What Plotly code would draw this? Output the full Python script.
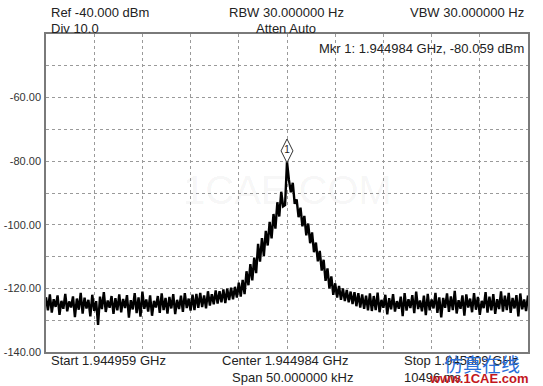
import plotly.graph_objects as go

# ---- data ----
span_khz = 50.0
n_points = 251
freq_offset_khz = [-25 + i * span_khz / (n_points - 1) for i in range(n_points)]

level_dbm = [
    -122.8, -126.9, -121.9, -127.6, -123.4, -125.8, -122.2, -128.3, -123.9, -126.4,
    -121.7, -127.2, -124.1, -126.0, -122.5, -129.0, -123.2, -126.7, -121.4, -127.9,
    -122.9, -126.3, -123.6, -128.8, -122.0, -127.1, -124.0, -131.5, -122.6, -126.5,
    -121.2, -127.4, -123.8, -126.1, -122.4, -128.0, -123.1, -126.9, -121.9, -127.5,
    -123.3, -126.2, -122.1, -129.2, -123.7, -126.6, -121.5, -127.8, -122.8, -128.9,
    -121.0, -126.4, -123.5, -127.3, -122.2, -128.6, -123.9, -126.0, -122.4, -127.7,
    -121.6, -126.8, -123.0, -127.9, -122.7, -126.3, -121.8, -128.1, -123.6, -126.5,
    -122.3, -127.4, -121.5, -126.2, -123.2, -127.0, -122.0, -126.8, -121.7, -126.1,
    -121.4, -125.9, -122.2, -126.3, -120.9, -125.4, -121.8, -125.0, -120.6, -124.8,
    -120.9, -124.4, -120.3, -124.6, -120.1, -123.7, -119.8, -123.4, -119.5, -122.9,
    -118.2, -122.6, -117.3, -121.8, -114.6, -119.0, -112.4, -117.5, -110.3, -115.2,
    -106.0, -111.6, -104.2, -109.8, -101.9, -106.5, -99.1, -104.3, -96.6, -101.2,
    -92.9, -97.4, -89.6, -94.2, -93.8, -80.1, -85.9, -89.8, -86.8, -93.4,
    -92.0, -97.6, -94.6, -100.5, -97.2, -103.3, -99.6, -105.8, -102.4, -108.6,
    -105.6, -111.5, -108.2, -114.4, -111.0, -117.6, -113.7, -120.0, -116.2, -122.0,
    -118.4, -122.9, -119.2, -123.6, -120.0, -124.0, -120.5, -124.4, -121.0, -124.9,
    -121.2, -125.6, -121.5, -126.0, -121.9, -126.4, -122.3, -126.9, -121.6, -127.1,
    -122.4, -126.8, -121.3, -127.5, -123.6, -126.1, -122.0, -128.2, -123.1, -126.6,
    -121.8, -127.3, -124.0, -126.4, -122.6, -128.7, -121.5, -127.0, -123.4, -126.2,
    -122.1, -127.8, -121.0, -126.5, -123.8, -127.2, -122.3, -128.4, -121.7, -126.9,
    -123.5, -126.3, -121.4, -127.7, -122.8, -129.1, -123.0, -126.1, -121.6, -127.4,
    -122.5, -126.8, -120.8, -127.9, -123.7, -126.4, -122.2, -128.6, -121.9, -126.0,
    -123.2, -127.5, -121.5, -126.7, -122.7, -128.3, -123.9, -126.2, -121.2, -127.6,
    -122.6, -126.9, -121.8, -128.0, -123.4, -126.5, -120.9, -127.3, -122.3, -126.8,
    -121.4, -127.7, -123.0, -126.3, -122.1, -128.8, -121.6, -126.6, -123.5, -127.1,
    -122.2,
]

marker_freq_khz = 0.0
marker_level_dbm = -80.059
marker_label = "1"

y_tick_vals = [-140, -130, -120, -110, -100, -90, -80, -70, -60, -50]
y_tick_text = ["-140.00", "", "-120.00", "", "-100.00", "", "-80.00", "", "-60.00", ""]
x_tick_vals = [-25, -20, -15, -10, -5, 0, 5, 10, 15, 20, 25]

header_left = ["Ref -40.000 dBm", "Div 10.0"]
header_mid = ["RBW 30.000000 Hz", "Atten Auto"]
header_right = "VBW 30.000000 Hz"
marker_text = "Mkr 1: 1.944984 GHz, -80.059 dBm"
footer_start = "Start 1.944959 GHz"
footer_center = ["Center 1.944984 GHz", "Span 50.000000 kHz"]
footer_stop = ["Stop 1.945009 GHz", "10496 ms"]

# ---- figure ----
FONT = "Liberation Sans, Arial, sans-serif"
fig = go.Figure()
fig.add_trace(go.Scatter(
    x=freq_offset_khz, y=level_dbm, mode="lines",
    line=dict(color="black", width=2.4), hoverinfo="skip", showlegend=False,
))
fig.add_trace(go.Scatter(
    x=[marker_freq_khz], y=[marker_level_dbm + 3.3], mode="markers+text",
    marker=dict(symbol="diamond-tall", size=17, color="white",
                line=dict(color="#333", width=1)),
    text=[marker_label], textposition="middle center",
    textfont=dict(family=FONT, size=10, color="#222"),
    showlegend=False, hoverinfo="skip", cliponaxis=False,
))

fig.update_layout(
    width=543, height=386,
    margin=dict(l=46, r=15, t=34, b=34, autoexpand=False),
    paper_bgcolor="white", plot_bgcolor="white",
    font=dict(family=FONT, size=13, color="#222"),
    showlegend=False,
)
fig.update_xaxes(
    range=[-25, 25], tickvals=x_tick_vals, showticklabels=False, ticks="",
    automargin=False,
    showgrid=True, gridcolor="#9a9a9a", griddash="dot", gridwidth=1,
    showline=True, mirror=True, linecolor="#7a7a7a", linewidth=1.5, zeroline=False,
)
fig.update_yaxes(
    range=[-140, -40], tickvals=y_tick_vals, ticktext=y_tick_text, ticks="",
    automargin=False,
    tickfont=dict(family=FONT, size=11, color="#333"), ticklabelstandoff=1,
    showgrid=True, gridcolor="#9a9a9a", griddash="dot", gridwidth=1,
    showline=True, mirror=True, linecolor="#7a7a7a", linewidth=1.5, zeroline=False,
)

def px_x(px):
    return (px - 46) / 482.0

def px_y(py):
    return (352 - py) / 318.0

def note(text, x, y, xanchor="left", size=13, color="#222", **kw):
    fig.add_annotation(text=text, xref="paper", yref="paper", x=px_x(x), y=px_y(y),
                       xanchor=xanchor, yanchor="middle", showarrow=False,
                       font=dict(family=kw.pop("family", FONT), size=size, color=color), **kw)

note(header_left[0], 49, 12)
note(header_left[1], 49, 28)
note(header_mid[0], 227, 12)
note(header_mid[1], 254, 28)
note(header_right, 526, 12, xanchor="right")
note(marker_text, 526, 48, xanchor="right")
note(footer_start, 49, 360)
note(footer_center[0], 220, 360)
note(footer_center[1], 230, 377)
note(footer_stop[0], 402, 360)
note(footer_stop[1], 402, 377)

# faint centre watermark and corner watermark
note("1CAE.COM", 287, 190, xanchor="center", size=40, color="rgba(0,0,0,0.05)")
note("仿真在线", 482, 363, xanchor="center", size=19, color="#2a6fd8",
     family="Noto Sans CJK SC")
note("<b>www.1CAE.com</b>", 478, 378, xanchor="center", size=13, color="#c3161c")

fig.write_html(
    "out.html",
    config={"displayModeBar": False},
    post_script="document.body.style.margin='0';document.body.style.padding='0';",
)
